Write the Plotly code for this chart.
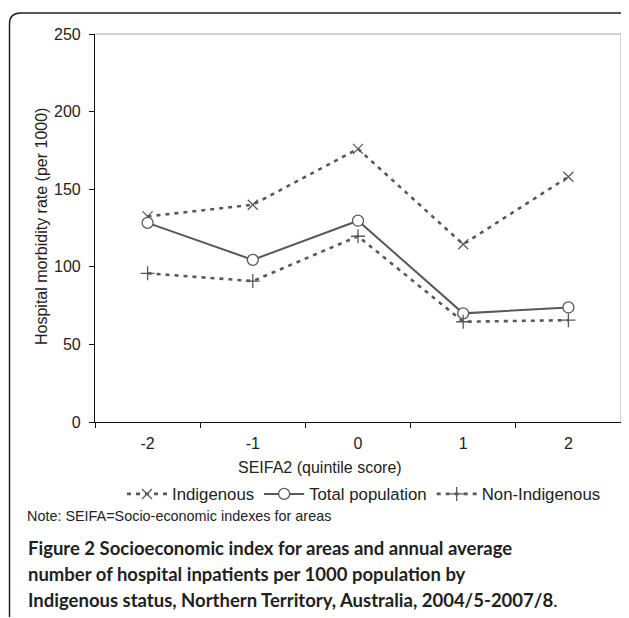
import plotly.graph_objects as go

categories = ["-2", "-1", "0", "1", "2"]
indigenous = [132.5, 140, 176, 114.5, 158]
total_population = [128.3, 104.5, 129.7, 70, 73.8]
non_indigenous = [95.8, 90.8, 119.7, 64.6, 65.6]
y_ticks = [0, 50, 100, 150, 200, 250]

# page is drawn with an 8px body margin
OFF = 8
W, H = 629 - OFF, 618 - OFF
PLOT_L, PLOT_R, PLOT_T, PLOT_B = 95, 621, 34, 422  # page coordinates
ML, MR, MT = PLOT_L - OFF, W - (PLOT_R - OFF), PLOT_T - OFF
MB = H - (PLOT_B - OFF)
PW, PH = PLOT_R - PLOT_L, PLOT_B - PLOT_T


def px(x):
    return (x - PLOT_L) / PW


def py(y):
    return (PLOT_B - y) / PH


LINE = "#595959"
TXT = "#222222"
AX_FONT = dict(family="Liberation Sans, Arial, sans-serif", size=16, color=TXT)
LEG_FONT = dict(family="Liberation Sans, Arial, sans-serif", size=16.8, color=TXT)

fig = go.Figure()
fig.add_trace(go.Scatter(
    x=categories, y=indigenous, name="Indigenous", mode="lines+markers",
    line=dict(color=LINE, width=2.6, dash="4px,5px"),
    marker=dict(symbol="x-thin-open", size=10, color=LINE, line=dict(color=LINE, width=1.3)),
))
fig.add_trace(go.Scatter(
    x=categories, y=total_population, name="Total population", mode="lines+markers",
    line=dict(color=LINE, width=2),
    marker=dict(symbol="circle", size=11, color="white", line=dict(color=LINE, width=1.3)),
))
fig.add_trace(go.Scatter(
    x=categories, y=non_indigenous, name="Non-Indigenous", mode="lines+markers",
    line=dict(color=LINE, width=2.6, dash="4px,5px"),
    marker=dict(symbol="cross-thin-open", size=10, color=LINE, line=dict(color=LINE, width=1.3)),
))

fig.update_xaxes(
    type="category", showgrid=False, zeroline=False, showline=True,
    linecolor="#111", linewidth=1.2, ticks="outside", ticklen=5, tickcolor="#111",
    tickson="boundaries", tickfont=AX_FONT, ticklabelstandoff=7,
    range=[-0.5, 4.5],
)
fig.update_yaxes(
    range=[0, 250], tickvals=y_ticks, showgrid=False, zeroline=False,
    showline=True, linecolor="#111", linewidth=1.2, ticks="outside", ticklen=5,
    tickcolor="#111", tickfont=AX_FONT, ticklabelstandoff=5,
)

shapes = [
    dict(type="line", xref="paper", yref="paper", x0=0, x1=1, y0=1, y1=1,
         line=dict(color="#a6a6a6", width=1)),
    dict(type="line", xref="paper", yref="paper", x0=1, x1=1, y0=0, y1=1,
         line=dict(color="#a6a6a6", width=1)),
    dict(type="path", xref="paper", yref="paper",
         path=(f"M {px(9.5)},{py(617)} L {px(9.5)},{py(24)} "
               f"Q {px(9.5)},{py(13)} {px(20.5)},{py(13)} L {px(621)},{py(13)} "
               f"Q {px(627)},{py(13)} {px(628.5)},{py(19)}"),
         line=dict(color="#222", width=1.5)),
]

cap_font = dict(family="Lato, sans-serif", size=18.5, color="#231f20")
annotations = [
    dict(text="Hospital morbidity rate (per 1000)", x=px(41), y=py(227),
         xref="paper", yref="paper", textangle=-90, showarrow=False,
         font=AX_FONT, xanchor="center", yanchor="middle"),
    dict(text="SEIFA2 (quintile score)", x=px(320), y=py(467),
         xref="paper", yref="paper", showarrow=False, font=AX_FONT,
         xanchor="center", yanchor="middle"),
    dict(text="Note: SEIFA=Socio-economic indexes for areas", x=px(25), y=py(516),
         xref="paper", yref="paper", showarrow=False,
         font=dict(family="Liberation Sans, Arial, sans-serif", size=14.4, color=TXT),
         xanchor="left", yanchor="middle"),
    dict(text="<b>Figure 2 Socioeconomic index for areas and annual average</b>",
         x=px(26), y=py(548), xref="paper", yref="paper", showarrow=False,
         font=cap_font, xanchor="left", yanchor="middle"),
    dict(text="<b>number of hospital inpatients per 1000 population by</b>",
         x=px(26), y=py(574), xref="paper", yref="paper", showarrow=False,
         font=cap_font, xanchor="left", yanchor="middle"),
    dict(text="<b>Indigenous status, Northern Territory, Australia, 2004/5-2007/8</b>.",
         x=px(26), y=py(600), xref="paper", yref="paper", showarrow=False,
         font=cap_font, xanchor="left", yanchor="middle"),
]

fig.update_layout(
    width=W, height=H, autosize=False,
    margin=dict(l=ML, r=MR, t=MT, b=MB),
    paper_bgcolor="white", plot_bgcolor="white",
    showlegend=True,
    legend=dict(orientation="h", x=px(122), y=py(494), xanchor="left", yanchor="middle",
                font=LEG_FONT, bgcolor="rgba(0,0,0,0)", itemwidth=40,
                tracegroupgap=0, itemclick=False),
    shapes=shapes, annotations=annotations,
)

fig.write_html("out.html")
